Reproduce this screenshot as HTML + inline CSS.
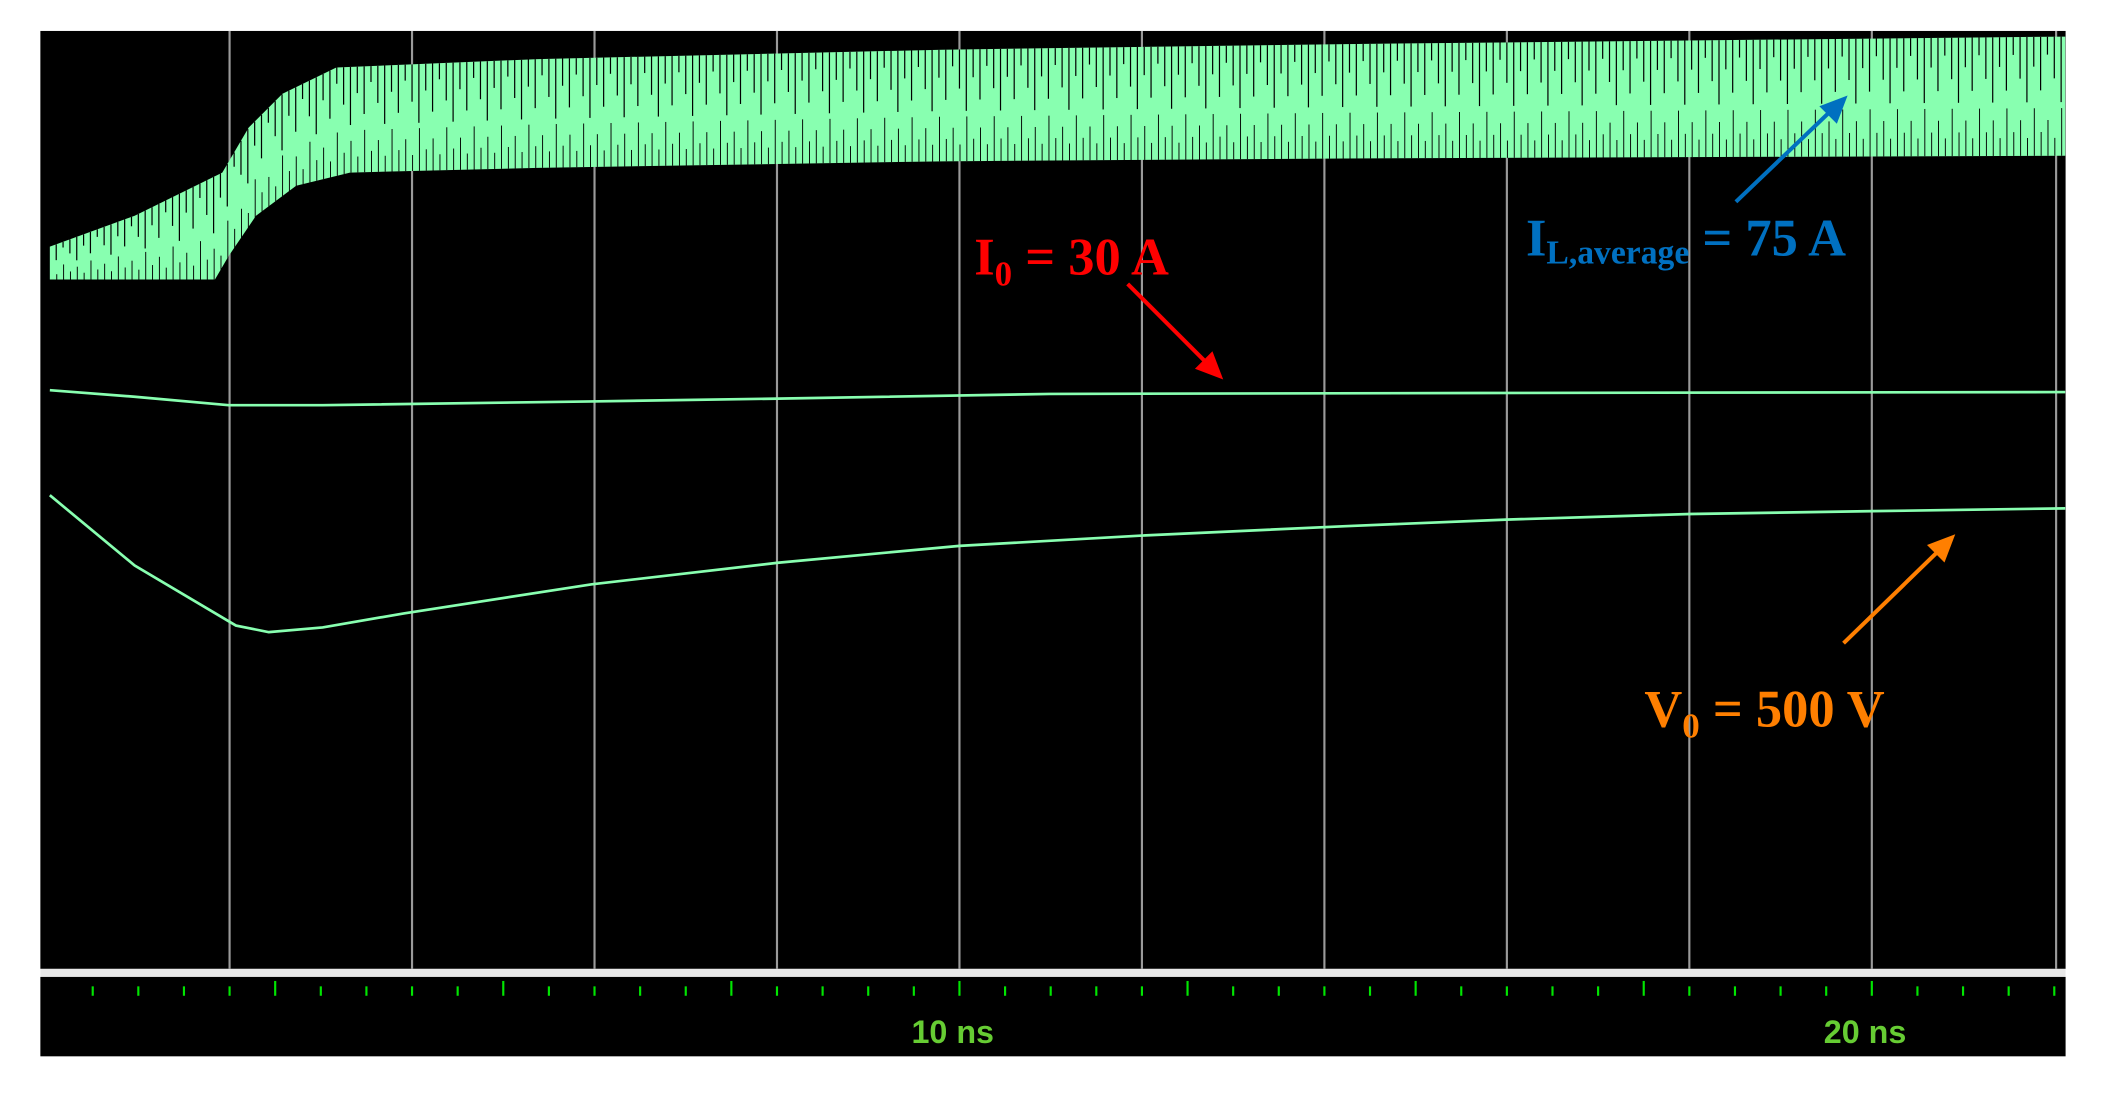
<!DOCTYPE html>
<html><head><meta charset="utf-8"><style>
html,body{margin:0;padding:0;background:#fff;}
svg{display:block;}
</style></head><body>
<svg id="chart" width="2110" height="1094" viewBox="0 0 1568 813" preserveAspectRatio="none" xmlns="http://www.w3.org/2000/svg">
<rect x="30" y="23" width="1505" height="697" fill="#000"/>
<rect x="30" y="720" width="1505" height="6" fill="#e8e8e8"/>
<rect x="30" y="726" width="1505" height="59" fill="#000"/>
<g id="grid"></g>
<g id="band"></g>
<g id="lines"></g>
<g id="ticks"></g>
<g font-family="'Liberation Serif',serif" font-weight="bold">
 <text x="724" y="204" fill="#ff0000" font-size="39">I<tspan font-size="26" dy="8">0</tspan><tspan dy="-8"> = 30 A</tspan></text>
 <line x1="838" y1="211" x2="898" y2="271" stroke="#ff0000" stroke-width="3"/>
 <polygon points="909,282 888,274 901,261" fill="#ff0000"/>
 <text x="1134" y="190" fill="#0070c0" font-size="39">I<tspan font-size="25" dy="6">L,average</tspan><tspan dy="-6"> = 75 A</tspan></text>
 <line x1="1290" y1="150" x2="1362" y2="81" stroke="#0070c0" stroke-width="3"/>
 <polygon points="1373,71 1365,92 1352,79" fill="#0070c0"/>
 <text x="1222" y="540" fill="#ff7f00" font-size="39">V<tspan font-size="26" dy="8">0</tspan><tspan dy="-8"> = 500 V</tspan></text>
 <line x1="1370" y1="478" x2="1442" y2="408" stroke="#ff7f00" stroke-width="3"/>
 <polygon points="1453,397 1445,418 1432,405" fill="#ff7f00"/>
</g>
</svg>
<script>
const gridTimes=[2,4,6,8,10,12,14,16,18,20,22.02];
const upperT=[0.03,0.96,1.92,2.21,2.58,3.17,5.38,9.81,14.23,22.12];
const upperV=[77.0,80.3,84.9,89.7,93.3,96.1,97.0,98.0,98.6,99.4];
const lowerT=[0.03,1.84,1.99,2.29,2.73,3.32,5.38,9.81,14.23,22.12];
const lowerV=[73.5,73.5,76.0,80.3,83.5,84.9,85.4,86.1,86.4,86.7];
const i0T=[0.03,0.96,1.99,3.02,5.97,8.01,10.99,15.71,22.12];
const i0V=[61.7,61.0,60.1,60.1,60.5,60.8,61.3,61.4,61.5];
const v0T=[0.03,0.96,2.07,2.43,3.02,3.91,5.97,8.01,10.0,12.0,14.23,15.99,18.01,20.01,22.12];
const v0V=[50.5,43.0,36.6,35.9,36.4,37.9,41.0,43.3,45.1,46.2,47.2,47.9,48.5,48.8,49.1];
const tickLabels=[{t:10,s:"10 ns"},{t:20,s:"20 ns"}];

const NS="http://www.w3.org/2000/svg";
const xs=t=>35+67.8*t;
const ys=v=>720-6.97*v;
function mk(tag,attrs,parent){const e=document.createElementNS(NS,tag);for(const k in attrs)e.setAttribute(k,attrs[k]);parent.appendChild(e);return e;}
function interp(T,V,t){if(t<=T[0])return V[0];for(let i=1;i<T.length;i++){if(t<=T[i]){const f=(t-T[i-1])/(T[i]-T[i-1]);return V[i-1]+f*(V[i]-V[i-1]);}}return V[V.length-1];}

const grid=document.getElementById('grid');
gridTimes.forEach(t=>{const l=mk('line',{x1:xs(t),x2:xs(t),y1:23,y2:720,stroke:'#9a9a9a','stroke-width':1.6},grid);

});

const band=document.getElementById('band');
let pts=[];
for(let i=0;i<upperT.length;i++)pts.push(xs(upperT[i])+','+ys(upperV[i]));
for(let i=lowerT.length-1;i>=0;i--)pts.push(xs(lowerT[i])+','+ys(lowerV[i]));
const poly=mk('polygon',{points:pts.join(' '),fill:'#88ffb0'},band);


let k=0;
for(let t=0.1;t<22.1;t+=0.075){k++;
 const u=ys(interp(upperT,upperV,t)),d=ys(interp(lowerT,lowerV,t));const h=d-u;
 const a=[0.25,0.45,0.15,0.35,0.55][k%5];
 const s=mk('line',{x1:xs(t),x2:xs(t),y1:u,y2:u+h*a,stroke:'#000','stroke-width':0.9},band);
 
 
 const b=[0.3,0.15,0.4,0.2][k%4];
 const s2=mk('line',{x1:xs(t)+0.4,x2:xs(t)+0.4,y1:d-h*b,y2:d,stroke:'#000','stroke-width':0.7},band);
 
 
}
const lines=document.getElementById('lines');
function trace(T,V,name){const p=mk('polyline',{points:T.map((t,i)=>xs(t)+','+ys(V[i])).join(' '),fill:'none',stroke:'#88ffb0','stroke-width':2},lines);

}
trace(i0T,i0V,'i0-trace');
trace(v0T,v0V,'v0-trace');

const ticks=document.getElementById('ticks');
for(let i=1;i<=44;i++){const t=i*0.5;const major=i%5===0;
 const tk=mk('line',{x1:xs(t),x2:xs(t),y1:major?729:733,y2:740,stroke:'#00e600','stroke-width':1.6},ticks);
 
 }
tickLabels.forEach(o=>{const tx=mk('text',{x:xs(o.t)-5,y:775,fill:'#66cc33','font-size':24,'font-weight':'bold','font-family':"'Liberation Sans Narrow','Liberation Sans',sans-serif",'text-anchor':'middle'},ticks);
 tx.textContent=o.s;
 
 });
</script>
</body></html>
